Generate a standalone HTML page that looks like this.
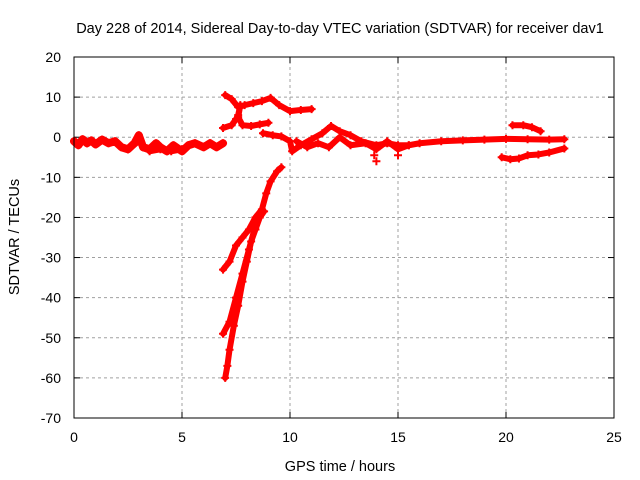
<!DOCTYPE html>
<html><head><meta charset="utf-8"><style>
body{margin:0;background:#fff}
svg{display:block;font-family:"Liberation Sans",sans-serif}
</style></head><body>
<svg id="chart" width="640" height="480">
<rect width="640" height="480" fill="#fff"/>
<text x="340" y="33" text-anchor="middle" font-size="14.5">Day 228 of 2014, Sidereal Day-to-day VTEC variation (SDTVAR) for receiver dav1</text>
<text x="340" y="471" text-anchor="middle" font-size="14.5">GPS time / hours</text>
<text transform="translate(19,237) rotate(-90)" text-anchor="middle" font-size="14.5">SDTVAR / TECUs</text>
<g id="grid"></g>
<g id="ticks"></g>
<g id="series"></g>
<rect x="74" y="57" width="540" height="361" fill="none" stroke="#000"/>
</svg>
<script>
const xTicks=[0,5,10,15,20,25];
const yTicks=[20,10,0,-10,-20,-30,-40,-50,-60,-70];
const trackBase=[[0,-1],[0.2,-2],[0.4,-0.5],[0.6,-1.5],[0.8,-0.8],[1,-1.8],[1.3,-0.6],[1.6,-1.5],[1.9,-1],[2.2,-2.5],[2.5,-3],[2.8,-1.5],[3,0.5],[3.2,-2.5],[3.5,-3],[3.8,-1.5],[4,-2.5],[4.3,-3.5],[4.6,-2],[5,-3.5],[5.3,-2],[5.6,-1.5],[6,-2.5],[6.3,-1.5],[6.6,-2.5],[6.9,-1.5]];
const trackBase2=[[2.5,-3],[3,-1],[3.5,-3.5],[4,-3],[4.5,-3.5],[5,-3]];
const trackUpper=[[7,10.5],[7.3,9.5],[7.6,7.5],[7.9,8],[8.3,8.5],[8.7,9],[9.1,9.8],[9.5,8],[10,6.5],[10.5,6.8],[11,7]];
const trackMid=[[6.9,2.3],[7.3,3],[7.5,4.5],[7.6,5.5],[7.7,8],[7.6,5],[7.8,3],[8.2,2.8],[8.6,3.2],[9,3.6]];
const trackMain=[[8.75,1],[9.2,0.5],[9.6,0.2],[10,-1],[10.1,-3.5],[10.5,-2],[11,-0.5],[11.5,1],[11.9,2.8],[12.3,1.5],[12.8,0.5],[13.3,-1],[14,-2],[14.5,-1.5],[15,-2],[15.5,-2],[16,-1.5],[17,-1],[18,-0.8],[19,-0.6],[20,-0.4],[21,-0.5],[22,-0.6],[22.7,-0.5]];
const trackMain2=[[10.3,-1],[10.8,-2.5],[11.3,-1.5],[11.8,-2.5],[12.3,0],[12.8,-2],[13.5,-1.5],[14,-3],[14.5,-1],[15,-3],[15.5,-2]];
const trackOutliers=[[14,-6],[15,-4.5],[13.9,-4.5]];
const trackLow=[[19.8,-5],[20.2,-5.5],[20.6,-5.3],[21,-4.5],[21.5,-4.3],[22,-3.8],[22.7,-2.8]];
const trackHigh=[[20.3,3],[20.8,3],[21.2,2.5],[21.6,1.5]];
const trackFall1=[[6.9,-33],[7.2,-31],[7.5,-27],[7.8,-25],[8.1,-23],[8.4,-20],[8.7,-18],[8.9,-14],[9.1,-11],[9.4,-8.5],[9.6,-7.5]];
const trackFall2=[[7,-60],[7.1,-57],[7.2,-53],[7.4,-47],[7.6,-42],[7.8,-36],[8,-31],[8.2,-26],[8.4,-23],[8.6,-20],[8.8,-18.5]];
const trackFall3=[[6.9,-49],[7.2,-46],[7.5,-40],[7.8,-34],[8.1,-28],[8.4,-22],[8.6,-19]];
const tracks=[trackBase,trackBase2,trackUpper,trackMid,trackMain,trackMain2,trackOutliers,trackLow,trackHigh,trackFall1,trackFall2,trackFall3];
const X0=74,X1=614,Y0=418,Y1=57;
const xs=t=>X0+(t-0)/(25-0)*(X1-X0);
const ys=v=>Y0-(v+70)/(90)*(Y0-Y1);
const NS='http://www.w3.org/2000/svg';
const grid=document.getElementById('grid'),ticks=document.getElementById('ticks'),ser=document.getElementById('series');
function mk(tag,at,parent){const e=document.createElementNS(NS,tag);for(const k in at)e.setAttribute(k,at[k]);parent.appendChild(e);return e;}
xTicks.forEach(t=>{const x=xs(t);
 if(t>0&&t<25){const g=mk('line',{x1:x,x2:x,y1:Y0,y2:Y1,stroke:'#a0a0a0','stroke-dasharray':'3,3'},grid);}
 mk('line',{x1:x,x2:x,y1:Y0,y2:Y0-6,stroke:'#000'},ticks);mk('line',{x1:x,x2:x,y1:Y1,y2:Y1+6,stroke:'#000'},ticks);
 const l=mk('text',{x:x,y:442,'text-anchor':'middle','font-size':14},ticks);l.textContent=t;
 });
yTicks.forEach(v=>{const y=ys(v);
 if(v>-70&&v<20){const g=mk('line',{x1:X0,x2:X1,y1:y,y2:y,stroke:'#a0a0a0','stroke-dasharray':'3,3'},grid);}
 mk('line',{x1:X0,x2:X0+6,y1:y,y2:y,stroke:'#000'},ticks);mk('line',{x1:X1,x2:X1-6,y1:y,y2:y,stroke:'#000'},ticks);
 const l=mk('text',{x:61,y:y+5,'text-anchor':'end','font-size':14},ticks);l.textContent=v;
 });
tracks.forEach(tr=>{
 if(tr!==trackOutliers){const p=mk('polyline',{points:tr.map(d=>xs(d[0])+','+ys(d[1])).join(' '),fill:'none',stroke:'#f00','stroke-width':(tr===trackBase?8:6),'stroke-linejoin':'round','stroke-linecap':'round'},ser);
 }
 tr.forEach(d=>{const x=xs(d[0]),y=ys(d[1]);
  const m=mk('path',{d:`M${x-4},${y}H${x+4}M${x},${y-4}V${y+4}`,stroke:'#f00','stroke-width':2},ser);
  });
});
</script>
</body></html>
